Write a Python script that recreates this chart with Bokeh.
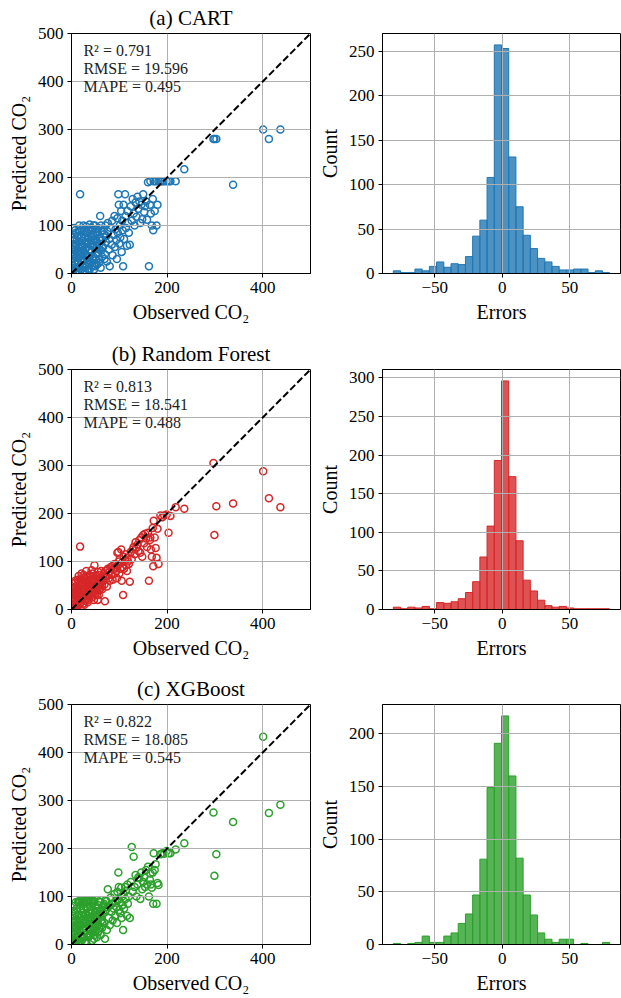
import numpy as np
from bokeh.plotting import figure
from bokeh.models import Range1d, FixedTicker, Label
from bokeh.layouts import column, row
from bokeh.embed import file_html
from bokeh.resources import INLINE

# ---------------- data ----------------
panel_titles = ["(a) CART", "(b) Random Forest", "(c) XGBoost"]
colors = ["#1f77b4", "#d62728", "#2ca02c"]
r2_values = [0.791, 0.813, 0.822]
rmse_values = [19.596, 18.541, 18.085]
mape_values = [0.495, 0.488, 0.545]

observed = [
    1, 2, 2, 3, 3, 4, 4, 5, 6, 6,
    7, 7, 8, 9, 9, 10, 10, 11, 12, 12,
    13, 14, 14, 15, 16, 17, 17, 18, 19, 19,
    20, 21, 21, 22, 23, 24, 24, 25, 26, 26,
    27, 28, 28, 29, 30, 31, 31, 32, 33, 34,
    34, 35, 36, 37, 38, 38, 39, 40, 41, 42,
    42, 43, 44, 45, 46, 46, 47, 48, 49, 50,
    50, 51, 52, 53, 54, 55, 55, 56, 57, 58,
    58, 59, 60, 61, 62, 63, 64, 65, 66, 68,
    70, 71, 72, 74, 75, 76, 78, 79, 80, 82,
    84, 85, 86, 88, 90, 91, 92, 94, 95, 96,
    97, 98, 99, 100, 101, 102, 104, 105, 106, 107,
    108, 109, 110, 112, 113, 114, 116, 117, 118, 120,
    122, 124, 126, 128, 130, 132, 134, 136, 138, 140,
    142, 144, 146, 148, 150, 152, 154, 156, 158, 160,
    162, 164, 165, 166, 168, 170, 171, 172, 174, 176,
    178, 180, 182, 186, 190, 194, 199, 203, 207, 218,
    236, 297, 299, 303, 338, 401, 413, 437,
    2, 3, 5, 5, 8, 8, 11, 13, 15, 16,
    18, 20, 22, 23, 25, 27, 29, 30, 32, 33,
    35, 36, 37, 39, 40, 41, 44, 45, 47, 48,
    51, 53, 54, 57, 60, 62, 64, 67, 69, 73,
]
pred_cart = [
    2, 5, 18, 30, 60, 50, 8, 12, 70, 25,
    40, 80, 20, 85, 3, 60, 35, 3, 45, 12,
    78, 25, 55, 88, 65, 35, 5, 165, 55, 28,
    8, 92, 45, 68, 15, 48, 5, 82, 30, 90,
    62, 5, 40, 75, 40, 98, 15, 20, 55, 85,
    35, 10, 65, 35, 102, 8, 50, 25, 78, 45,
    70, 15, 90, 60, 35, 100, 8, 72, 100, 52,
    15, 28, 85, 18, 65, 42, 85, 95, 58, 30,
    50, 75, 120, 12, 48, 88, 35, 70, 55, 82,
    40, 100, 65, 25, 88, 105, 50, 72, 15, 95,
    60, 110, 38, 80, 120, 55, 92, 70, 30, 115,
    85, 165, 143, 62, 100, 75, 130, 45, 110, 90,
    15, 143, 72, 165, 120, 95, 58, 130, 105, 85,
    60, 140, 110, 155, 125, 100, 148, 118, 160, 135,
    150, 105, 143, 113, 165, 128, 140, 150, 112, 190,
    15, 143, 192, 125, 100, 155, 90, 192, 130, 192,
    100, 143, 192, 192, 192, 192, 192, 192, 192, 192,
    217, 280, 280, 280, 185, 300, 280, 300,
    40, 75, 95, 35, 55, 90, 70, 20, 48, 100,
    40, 75, 25, 58, 100, 12, 52, 85, 65, 28,
    92, 48, 75, 20, 60, 95, 30, 80, 55, 22,
    65, 92, 40, 22, 68, 100, 55, 90, 30, 78,
]
pred_rf = [
    4, 8, 10, 15, 40, 22, 6, 5, 35, 12,
    18, 55, 10, 40, 4, 28, 42, 12, 50, 18,
    62, 20, 35, 70, 45, 30, 10, 131, 42, 52,
    15, 75, 28, 55, 25, 38, 12, 65, 22, 48,
    50, 18, 60, 58, 35, 80, 22, 28, 45, 68,
    15, 20, 52, 40, 72, 25, 48, 30, 60, 42,
    82, 25, 75, 55, 38, 65, 20, 92, 62, 48,
    38, 35, 70, 30, 58, 45, 20, 78, 52, 40,
    62, 65, 72, 45, 55, 68, 50, 62, 60, 75,
    17, 80, 70, 48, 82, 85, 65, 78, 60, 88,
    72, 90, 62, 85, 95, 75, 88, 80, 65, 118,
    92, 120, 100, 75, 105, 85, 125, 60, 98, 88,
    30, 110, 85, 102, 115, 92, 80, 108, 100, 95,
    58, 120, 105, 125, 130, 115, 140, 128, 135, 122,
    145, 118, 150, 110, 155, 138, 158, 148, 130, 160,
    60, 145, 150, 125, 110, 170, 90, 185, 150, 128,
    108, 168, 95, 196, 192, 196, 198, 160, 195, 213,
    210, 305, 155, 215, 221, 288, 232, 213,
    20, 30, 45, 25, 32, 60, 38, 8, 30, 58,
    22, 62, 35, 42, 72, 10, 30, 70, 55, 45,
    62, 30, 55, 35, 70, 50, 48, 35, 60, 42,
    72, 55, 48, 30, 58, 80, 42, 70, 52, 68,
]
pred_xgb = [
    3, 10, 20, 25, 5, 45, 8, 3, 50, 35,
    30, 15, 15, 88, 2, 35, 52, 8, 60, 10,
    40, 18, 88, 90, 55, 40, 28, 90, 70, 40,
    20, 88, 8, 60, 12, 52, 32, 75, 28, 90,
    85, 5, 48, 62, 45, 90, 5, 22, 55, 78,
    60, 15, 48, 35, 90, 18, 65, 20, 72, 50,
    90, 8, 85, 58, 30, 42, 12, 90, 68, 42,
    80, 28, 75, 15, 55, 40, 25, 82, 62, 35,
    90, 70, 88, 20, 50, 60, 45, 78, 65, 85,
    12, 92, 72, 30, 78, 115, 55, 80, 40, 98,
    68, 85, 50, 75, 105, 60, 90, 78, 45, 110,
    95, 150, 120, 72, 88, 65, 118, 55, 100, 82,
    30, 105, 75, 120, 95, 112, 60, 125, 85, 100,
    55, 130, 203, 110, 183, 120, 145, 100, 125, 140,
    138, 95, 150, 115, 130, 140, 120, 155, 125, 162,
    100, 135, 148, 125, 118, 150, 85, 190, 155, 167,
    85, 128, 124, 188, 190, 189, 195, 190, 190, 198,
    211, 275, 143, 188, 255, 433, 274, 291,
    60, 80, 70, 40, 65, 22, 75, 45, 30, 62,
    50, 80, 18, 45, 90, 15, 38, 65, 75, 22,
    90, 40, 65, 28, 55, 80, 38, 90, 48, 20,
    58, 70, 45, 28, 62, 72, 35, 82, 45, 90,
]
predictions = [pred_cart, pred_rf, pred_xgb]

# error histograms (30 bins)
error_bin_start = -80.8
error_bin_width = 5.35
count_cart = [3, 1, 1, 5, 3, 8, 13, 7, 11, 10, 19, 42, 60, 108, 257,
              253, 131, 75, 43, 28, 17, 13, 8, 4, 4, 5, 5, 1, 3, 1]
count_rf = [3, 1, 3, 2, 4, 1, 9, 8, 10, 14, 22, 36, 68, 108, 193,
            296, 172, 89, 38, 24, 12, 5, 3, 4, 2, 1, 1, 1, 1, 1]
count_xgb = [1, 0, 1, 2, 8, 2, 2, 8, 11, 20, 29, 47, 81, 149, 191,
             217, 160, 82, 47, 28, 11, 5, 2, 5, 5, 0, 1, 0, 0, 2]
counts = [count_cart, count_rf, count_xgb]

scatter_limit = 500
scatter_xticks = [0, 200, 400]
scatter_yticks = [0, 100, 200, 300, 400, 500]
hist_xticks = [-50, 0, 50]
hist_yticks = [[0, 50, 100, 150, 200, 250],
               [0, 50, 100, 150, 200, 250, 300],
               [0, 50, 100, 150, 200]]

FONT = "Liberation Serif"


def style(p):
    p.outline_line_color = "black"
    p.outline_line_width = 1
    p.background_fill_color = "white"
    p.border_fill_color = "white"
    for ax in p.axis:
        ax.axis_line_color = "black"
        ax.major_tick_line_color = "black"
        ax.major_tick_in = 0
        ax.major_tick_out = 4
        ax.minor_tick_line_color = None
        ax.major_label_text_font = FONT
        ax.major_label_text_font_size = "17px"
        ax.major_label_text_color = "black"
        ax.axis_label_text_font = FONT
        ax.axis_label_text_font_size = "20px"
        ax.axis_label_text_font_style = "normal"
        ax.axis_label_text_color = "black"
        ax.major_label_standoff = 4
        ax.axis_label_standoff = 5
    for g in p.grid:
        g.grid_line_color = "#b0b0b0"
        g.grid_line_width = 1


rows = []
bottoms = [63, 62, 40]
for i in range(3):
    mb = bottoms[i]
    # scatter panel
    ps = figure(frame_width=239, frame_height=240,
                x_range=Range1d(0, scatter_limit), y_range=Range1d(0, scatter_limit),
                output_backend="svg", toolbar_location=None,
                min_border_left=71, min_border_right=4, min_border_top=33,
                min_border_bottom=mb)
    ps.title.text = panel_titles[i]
    ps.title.align = "center"
    ps.title.text_font = FONT
    ps.title.text_font_size = "21px"
    ps.title.text_font_style = "normal"
    ps.title.text_color = "black"
    ps.title.standoff = 7
    ps.xaxis.ticker = FixedTicker(ticks=scatter_xticks)
    ps.yaxis.ticker = FixedTicker(ticks=scatter_yticks)
    ps.xaxis.axis_label = "Observed CO₂"
    ps.yaxis.axis_label = "Predicted CO₂"
    style(ps)
    r = ps.scatter(observed, predictions[i], size=7, marker="circle",
                   fill_color=None, line_color=colors[i], line_width=1.5)
    r.level = "image"
    ps.line([0, scatter_limit], [0, scatter_limit], line_color="black",
            line_width=2, line_dash="7 3")
    texts = ["R² = %.3f" % r2_values[i], "RMSE = %.3f" % rmse_values[i],
             "MAPE = %.3f" % mape_values[i]]
    for k, t in enumerate(texts):
        ps.add_layout(Label(x=25, y=464 - 37 * k, text=t, text_font=FONT,
                            text_font_size="16px", text_baseline="middle",
                            text_color="#222222"))

    # histogram panel
    c = np.array(counts[i], dtype=float)
    edges = error_bin_start + error_bin_width * np.arange(len(c) + 1)
    span = edges[-1] - edges[0]
    ph = figure(frame_width=238, frame_height=240,
                x_range=Range1d(edges[0] - 0.05 * span, edges[-1] + 0.05 * span),
                y_range=Range1d(0, c.max() * 1.05),
                output_backend="svg", toolbar_location=None,
                min_border_left=68, min_border_right=1, min_border_top=33,
                min_border_bottom=mb)
    ph.xaxis.ticker = FixedTicker(ticks=hist_xticks)
    ph.xaxis.major_label_overrides = {-50: "−50", 0: "0", 50: "50"}
    ph.yaxis.ticker = FixedTicker(ticks=hist_yticks[i])
    ph.xaxis.axis_label = "Errors"
    ph.yaxis.axis_label = "Count"
    style(ph)
    q = ph.quad(left=edges[:-1], right=edges[1:], bottom=0, top=c,
                fill_color=colors[i], fill_alpha=0.8,
                line_color=colors[i], line_width=1)
    q.level = "image"
    rows.append(row(ps, ph))

layout = column(*rows)
open("out.html", "w").write(file_html(layout, INLINE))
